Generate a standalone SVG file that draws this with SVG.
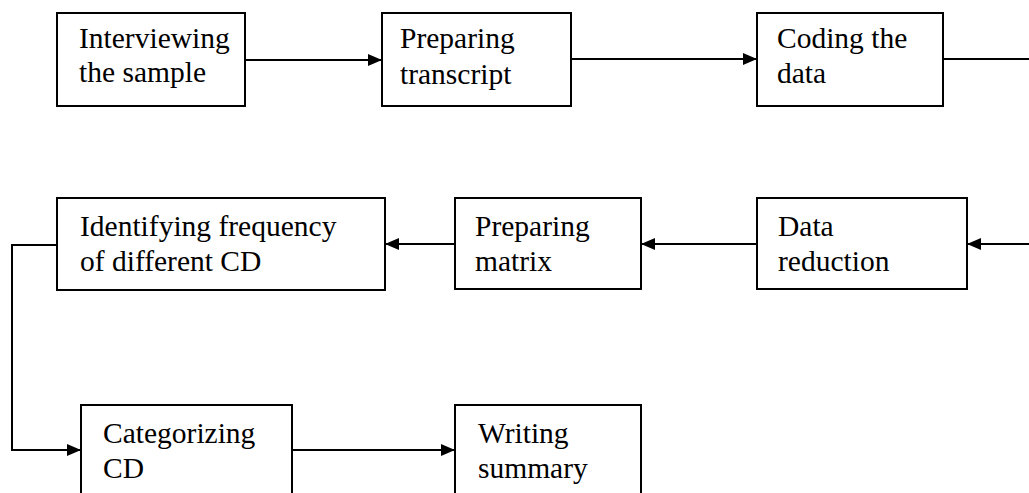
<svg xmlns="http://www.w3.org/2000/svg" width="1029" height="493" viewBox="0 0 1029 493">
  <style>
    .box { fill: #ffffff; stroke: #000000; stroke-width: 2; }
    .lbl { font-family: "Liberation Serif", "Times New Roman", serif; font-size: 29.5px; fill: #000000; }
    .conn { fill: none; stroke: #000000; stroke-width: 2; }
  </style>
  <defs>
    <marker id="arrow" markerUnits="userSpaceOnUse" markerWidth="16" markerHeight="16" refX="14" refY="8" orient="auto">
      <path d="M0,2 L14,8 L0,14 z" fill="#000000"/>
    </marker>
  </defs>
  <rect width="1029" height="493" fill="#ffffff"/>
  <g id="connectors">
    <line class="conn" x1="245" y1="60" x2="382" y2="60" marker-end="url(#arrow)"/>
    <line class="conn" x1="571" y1="59" x2="757" y2="59" marker-end="url(#arrow)"/>
    <line class="conn" x1="943" y1="59" x2="1029" y2="59"/>
    <line class="conn" x1="1029" y1="244" x2="967" y2="244" marker-end="url(#arrow)"/>
    <line class="conn" x1="757" y1="244" x2="641" y2="244" marker-end="url(#arrow)"/>
    <line class="conn" x1="455" y1="244" x2="385" y2="244" marker-end="url(#arrow)"/>
    <path class="conn" d="M57,245 L12,245 L12,450 L81,450" marker-end="url(#arrow)"/>
    <line class="conn" x1="292" y1="450" x2="455" y2="450" marker-end="url(#arrow)"/>
  </g>
  <g id="node-interviewing">
    <rect class="box" x="57" y="13" width="188" height="93"/>
    <text class="lbl" x="79" y="48">Interviewing</text>
    <text class="lbl" x="79" y="82">the sample</text>
  </g>
  <g id="node-transcript">
    <rect class="box" x="382" y="13" width="189" height="93"/>
    <text class="lbl" x="400" y="48">Preparing</text>
    <text class="lbl" x="400" y="84">transcript</text>
  </g>
  <g id="node-coding">
    <rect class="box" x="757" y="13" width="186" height="93"/>
    <text class="lbl" x="777" y="48">Coding the</text>
    <text class="lbl" x="777" y="83">data</text>
  </g>
  <g id="node-identifying">
    <rect class="box" x="57" y="198" width="328" height="92"/>
    <text class="lbl" x="80" y="236">Identifying frequency</text>
    <text class="lbl" x="80" y="271">of different CD</text>
  </g>
  <g id="node-matrix">
    <rect class="box" x="455" y="198" width="186" height="91"/>
    <text class="lbl" x="475" y="236">Preparing</text>
    <text class="lbl" x="475" y="271">matrix</text>
  </g>
  <g id="node-reduction">
    <rect class="box" x="757" y="198" width="210" height="91"/>
    <text class="lbl" x="778" y="236">Data</text>
    <text class="lbl" x="778" y="271">reduction</text>
  </g>
  <g id="node-categorizing">
    <rect class="box" x="81" y="405" width="211" height="110"/>
    <text class="lbl" x="103" y="443">Categorizing</text>
    <text class="lbl" x="103" y="478">CD</text>
  </g>
  <g id="node-summary">
    <rect class="box" x="455" y="405" width="186" height="110"/>
    <text class="lbl" x="478" y="443">Writing</text>
    <text class="lbl" x="478" y="478">summary</text>
  </g>
</svg>
